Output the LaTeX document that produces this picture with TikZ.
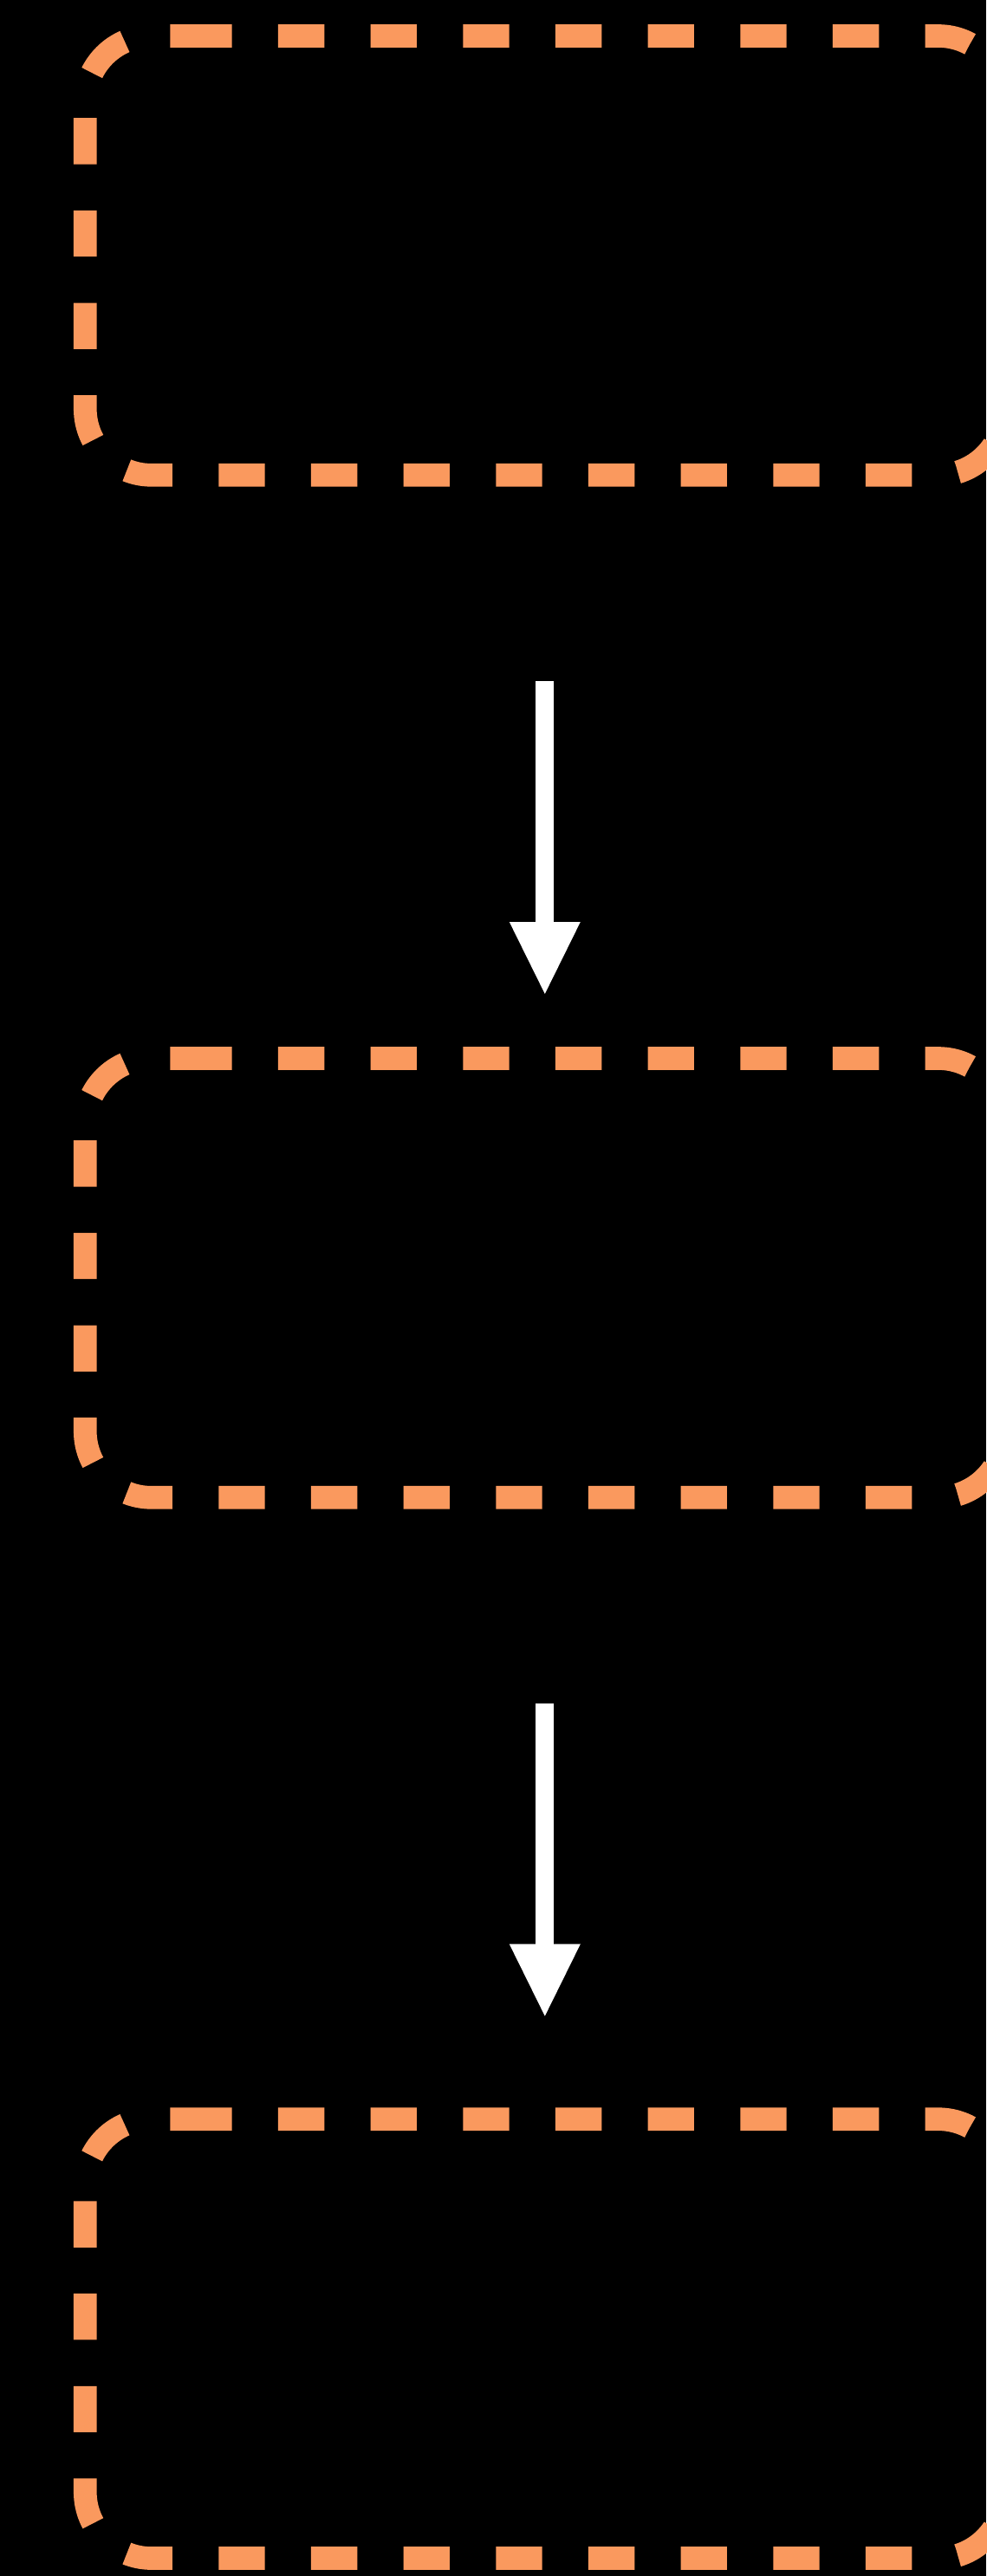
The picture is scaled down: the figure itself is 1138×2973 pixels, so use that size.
\documentclass[tikz,border=0pt]{standalone}
\usetikzlibrary{arrows.meta}
\definecolor{boxorange}{RGB}{250,153,94}
\begin{document}
\begin{tikzpicture}[x=1pt,y=-1pt,
  boxnode/.style={rectangle,inner sep=0pt,outer sep=0pt,minimum width=1061.05pt,minimum height=506.8pt},
  boxline/.style={draw=boxorange,line width=26.67pt,dash pattern=on 53.33pt off 53.33pt,rounded corners=76.5pt},
  flow/.style={draw=white,line width=21pt,-{Triangle[width=82pt,length=83pt,line width=0pt]}}]
\fill[black] (0,0) rectangle (1138,2973);
\useasboundingbox (0,0) rectangle (1138,2973);
\node[boxnode] (box1) at (628.8,294.9) {};
\node[boxnode] (box2) at (628.8,1474.9) {};
\node[boxnode] (box3) at (628.8,2699.1) {};
\draw[boxline] ([xshift=-414.5pt]box1.north) -- (box1.north east) -- (box1.south east) -- (box1.south west) -- (box1.north west) -- ([xshift=-414.5pt]box1.north);
\draw[boxline] ([xshift=-414.5pt]box2.north) -- (box2.north east) -- (box2.south east) -- (box2.south west) -- (box2.north west) -- ([xshift=-414.5pt]box2.north);
\draw[boxline] ([xshift=-414.5pt]box3.north) -- (box3.north east) -- (box3.south east) -- (box3.south west) -- (box3.north west) -- ([xshift=-414.5pt]box3.north);
\draw[flow] ([yshift=-237.7pt]box1.south) -- ([yshift=74.5pt]box2.north);
\draw[flow] ([yshift=-237.7pt]box2.south) -- ([yshift=119pt]box3.north);
\end{tikzpicture}
\end{document}
